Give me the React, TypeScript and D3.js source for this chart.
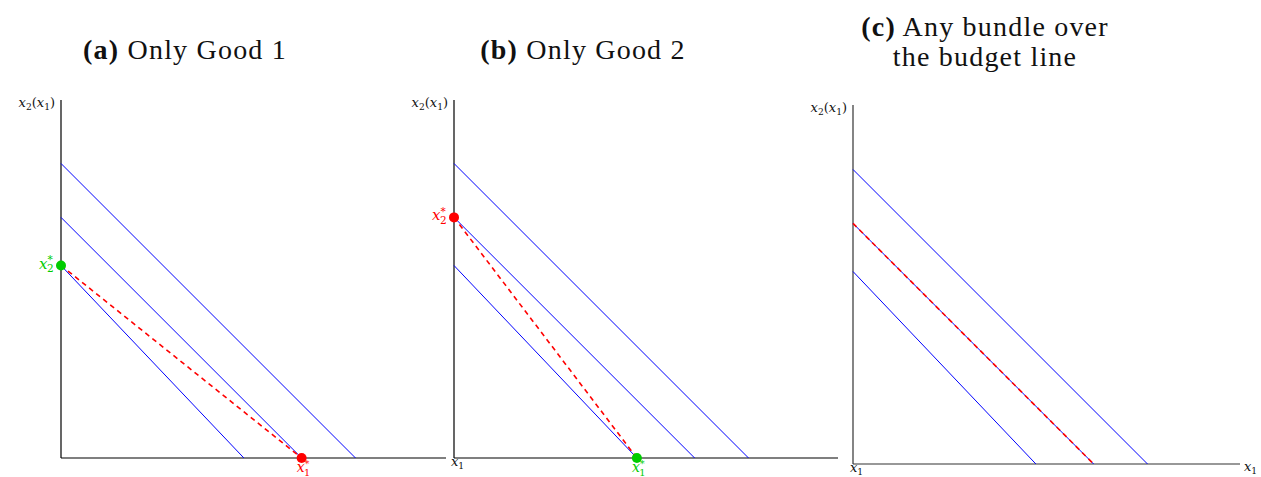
import { useRef, useEffect } from "react";
import * as d3 from "d3";

// indifference lines (same in every panel): intercepts on x1 and x2 axis
const indiffX1 = [7.65, 6.25, 4.75];
const indiffX2 = [7.65, 6.25, 5.0];

// budget line per panel (intercepts)
const budgetX1 = [6.25, 4.75, 6.25];
const budgetX2 = [5.0, 6.25, 6.25];

// corner solution: which intercept is the chosen bundle
const chosen = ["x1", "x2", "none"];

const titleTags = ["(a)", "(b)", "(c)"];
const titleLines = [["Only Good 1"], ["Only Good 2"], ["Any bundle over", "the budget line"]];

const W = 1261;
const H = 477;
const serif = "'Liberation Serif', 'DejaVu Serif', serif";
const mathFont = "'DejaVu Serif', serif";

const layout = [
  { left: 61, right: 446, top: 100, bottom: 458, cx: 185, ty: 59, x1Origin: false, x1End: false, axisColor: "#000" },
  { left: 454, right: 838, top: 100, bottom: 458, cx: 583, ty: 59, x1Origin: true, x1End: false, axisColor: "#000" },
  { left: 853, right: 1240, top: 105, bottom: 464, cx: 985, ty: 36, x1Origin: true, x1End: true, axisColor: "#333" },
];

// math label: list of [text, kind] pieces
const mathText = (g: any, x: number, y: number, parts: [string, string][], color: string, size: number, anchor = "start") => {
  const t = g.append("text").attr("x", x).attr("y", y)
    .attr("font-family", mathFont).attr("font-size", size)
    .attr("fill", color).attr("text-anchor", anchor);
  parts.forEach(([s, kind]) => {
    const sp = t.append("tspan").text(s);
    if (kind === "i") sp.attr("font-style", "italic");
    if (kind === "sub") sp.attr("font-size", size * 0.7).attr("dy", size * 0.25);
    if (kind === "up") sp.attr("dy", -size * 0.25);
    if (kind === "star") sp.attr("font-size", size * 0.7).attr("dy", -size * 0.35);
    if (kind === "substar") sp.attr("font-size", size * 0.7).attr("dx", -size * 0.38).attr("dy", size * 0.6);
  });
  return t;
};

const App = () => {
  const svgRef = useRef<SVGSVGElement>(null);

  useEffect(() => {
    const svg = d3.select(svgRef.current);
    svg.selectAll("*").remove();

    layout.forEach((p, i) => {
      const g = svg.append("g");
      const unit = 38.5;
      const x = d3.scaleLinear().domain([0, (p.right - p.left) / unit]).range([p.left, p.right]);
      const y = d3.scaleLinear().domain([0, (p.bottom - p.top) / unit]).range([p.bottom, p.top]);

      // title
      titleLines[i].forEach((line, k) => {
        const t = g.append("text")
          .attr("x", p.cx).attr("y", p.ty + k * 30)
          .attr("text-anchor", "middle")
          .attr("letter-spacing", 1.2)
          .attr("font-family", serif).attr("font-size", 28).attr("fill", "#111");
        if (k === 0) {
          t.append("tspan").attr("font-weight", "bold").text(titleTags[i]);
          t.append("tspan").text(" " + line);
        } else {
          t.text(line);
        }
      });

      // axes
      g.append("line").attr("x1", x(0)).attr("x2", x(0)).attr("y1", y(0)).attr("y2", p.top)
        .attr("stroke", p.axisColor).attr("stroke-width", 1.2);
      g.append("line").attr("x1", x(0)).attr("x2", p.right).attr("y1", y(0)).attr("y2", y(0))
        .attr("stroke", p.axisColor).attr("stroke-width", 1.2);

      // axis labels
      mathText(g, x(0) - 6, p.top + 7, [["x", "i"], ["2", "sub"], ["(", "up"], ["x", "i"], ["1", "sub"], [")", "up"]], "#111", 13, "end");
      if (p.x1Origin) mathText(g, x(0) - 3, y(0) + 8, [["x", "i"], ["1", "sub"]], "#111", 13);
      if (p.x1End) mathText(g, p.right + 4, y(0) + 7, [["x", "i"], ["1", "sub"]], "#111", 13);

      // indifference lines
      indiffX1.forEach((a, k) => {
        g.append("line")
          .attr("x1", x(0)).attr("y1", y(indiffX2[k]))
          .attr("x2", x(a)).attr("y2", y(0))
          .attr("stroke", "#0000ff").attr("stroke-width", 1);
      });

      // budget line
      g.append("line")
        .attr("x1", x(0)).attr("y1", y(budgetX2[i]))
        .attr("x2", x(budgetX1[i])).attr("y2", y(0))
        .attr("stroke", "#ff0000").attr("stroke-width", 1.6)
        .attr("stroke-dasharray", "5,4");

      if (chosen[i] !== "none") {
        const c1 = chosen[i] === "x1" ? "#ff0000" : "#00cc00";
        const c2 = chosen[i] === "x2" ? "#ff0000" : "#00cc00";
        g.append("circle").attr("cx", x(0)).attr("cy", y(budgetX2[i])).attr("r", 5).attr("fill", c2);
        g.append("circle").attr("cx", x(budgetX1[i])).attr("cy", y(0)).attr("r", 5).attr("fill", c1);
        mathText(g, x(0) - 22, y(budgetX2[i]) + 3, [["x", "i"], ["*", "star"], ["2", "substar"]], c2, 15);
        mathText(g, x(budgetX1[i]) - 5, y(0) + 14, [["x", "i"], ["*", "star"], ["1", "substar"]], c1, 14);
      }
    });
  }, []);

  return (
    <svg ref={svgRef} width={W} height={H}
      style={{ position: "absolute", left: 0, top: 0, background: "#fff" }} />
  );
};

export default App;
